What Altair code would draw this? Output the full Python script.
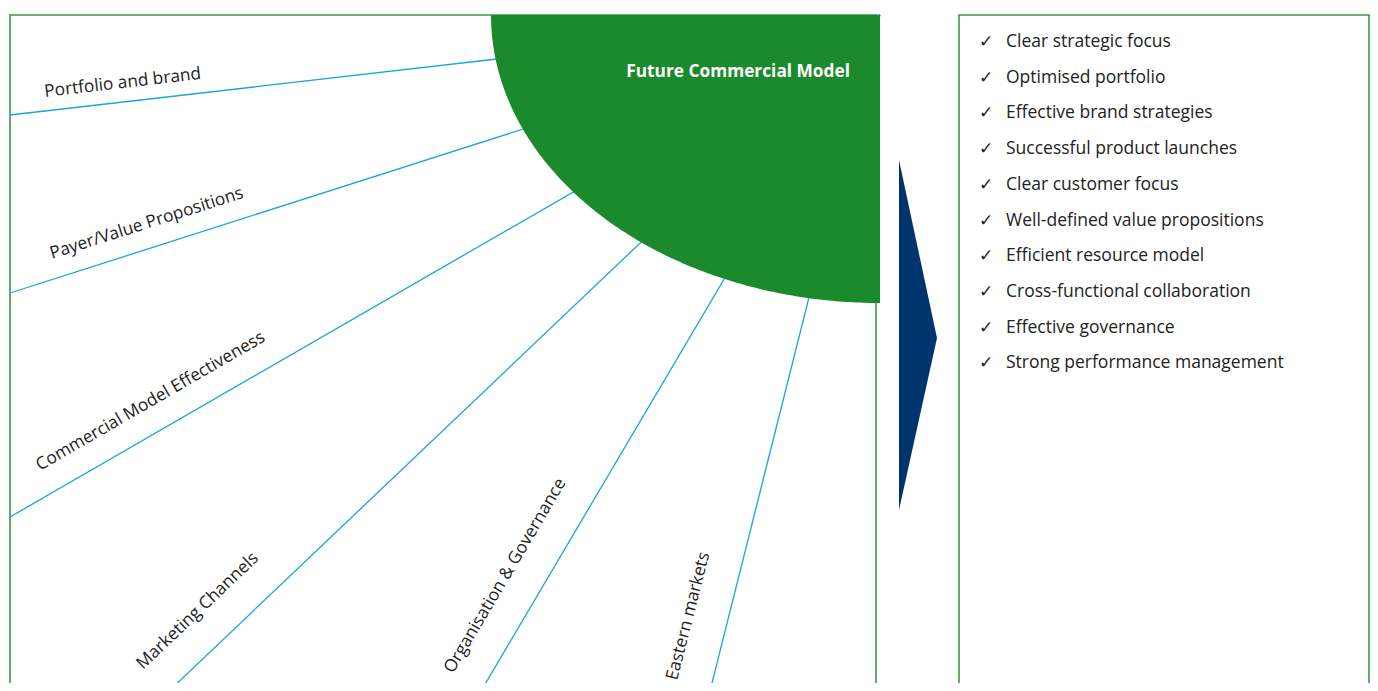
import altair as alt
import numpy as np
import pandas as pd

# ---- diagram content ----
segment_labels = ["Portfolio and brand", "Payer/Value Propositions",
                  "Commercial Model Effectiveness", "Marketing Channels",
                  "Organisation & Governance", "Eastern markets"]
label_x = [45, 52, 40, 143, 453, 677]
label_y = [97, 259, 471, 670, 674, 681]
label_angle = [353.4, 342.3, 330.0, 316.4, 300.6, 284.3]

# rays start at the centre of the green quadrant and run to the frame edge
ray_end_x = [10, 10, 10, 169, 481, 710]
ray_end_y = [115, 293, 517, 691, 691, 691]
centre_x, centre_y = 880, 15
radius_x, radius_y = 389, 288

hub_title = "Future Commercial Model"

benefits = ["Clear strategic focus", "Optimised portfolio", "Effective brand strategies",
            "Successful product launches", "Clear customer focus",
            "Well-defined value propositions", "Efficient resource model",
            "Cross-functional collaboration", "Effective governance",
            "Strong performance management"]
benefit_y = [47, 83, 118, 154, 190, 226, 261, 297, 333, 368]

# frames and arrow
box_x = [10, 959]
box_x2 = [876, 1369]
arrow_x = [899, 937]
arrow_top = [160, 338]
arrow_bottom = [510, 338]

GREEN = "#1b8a2c"
FRAME = "#3a9a44"
BLUE = "#1ba3e0"
NAVY = "#00346f"
TEXT = "#222222"
FONT = "Open Sans"

W, H = 1362, 675
xs = alt.Scale(domain=[8, 8 + W], nice=False, zero=False)
ys = alt.Scale(domain=[8, 8 + H], nice=False, zero=False, reverse=True)
X = lambda f: alt.X(f, type="quantitative", scale=xs, axis=None)
Y = lambda f: alt.Y(f, type="quantitative", scale=ys, axis=None)

boxes = pd.DataFrame({"x": box_x, "x2": box_x2, "y": [15, 15], "y2": [760, 760]})
box_layer = alt.Chart(boxes).mark_rect(fillOpacity=0, stroke=FRAME, strokeWidth=1.6, clip=True).encode(
    x=X("x"), x2="x2", y=Y("y"), y2="y2")

rays = pd.DataFrame({"x": [centre_x] * 6, "y": [centre_y] * 6, "x2": ray_end_x, "y2": ray_end_y})
ray_layer = alt.Chart(rays).mark_rule(color=BLUE, strokeWidth=1.3, clip=True).encode(
    x=X("x"), y=Y("y"), x2="x2", y2="y2")

# outline of the quarter-ellipse hub (geometry of the shape, sampled along its edge)
t = np.radians(np.arange(0, 90.25, 0.5))
hub_df = pd.DataFrame({
    "x": centre_x - radius_x * np.cos(t),
    "y": centre_y + radius_y * np.sin(t),
    "y2": np.full(len(t), float(centre_y)),
})
hub = alt.Chart(hub_df).mark_area(color=GREEN, clip=True).encode(
    x=X("x"), y=Y("y"), y2="y2")

hub_text = alt.Chart(pd.DataFrame({"x": [850], "y": [77], "t": [hub_title]})).mark_text(
    align="right", baseline="alphabetic", font=FONT, fontSize=17.3, fontWeight="bold", color="white"
).encode(x=X("x"), y=Y("y"), text="t:N")

arrow = pd.DataFrame({"x": arrow_x, "y": arrow_top, "y2": arrow_bottom})
arrow_layer = alt.Chart(arrow).mark_area(color=NAVY).encode(x=X("x"), y=Y("y"), y2="y2")

labels = pd.DataFrame({"x": label_x, "y": label_y, "a": label_angle, "t": segment_labels})
label_layer = alt.Chart(labels).mark_text(
    align="left", baseline="alphabetic", font=FONT, fontSize=17.3, color=TEXT
).encode(x=X("x"), y=Y("y"), angle=alt.Angle("a:Q", scale=None), text="t:N")

ben = pd.DataFrame({"y": benefit_y, "t": benefits, "c": ["✓"] * len(benefits)})
check_layer = alt.Chart(ben).mark_text(
    align="left", baseline="alphabetic", font="DejaVu Sans", fontSize=17, color=TEXT
).encode(x=alt.X(datum=979, type="quantitative", scale=xs, axis=None), y=Y("y"), text="c:N")
ben_layer = alt.Chart(ben).mark_text(
    align="left", baseline="alphabetic", font=FONT, fontSize=17.5, fontWeight=500, color=TEXT
).encode(x=alt.X(datum=1006, type="quantitative", scale=xs, axis=None), y=Y("y"), text="t:N")

chart = alt.layer(box_layer, ray_layer, hub, hub_text, arrow_layer, label_layer, check_layer, ben_layer).properties(
    width=W, height=H, padding=0, background="white", autosize=alt.AutoSizeParams(type="none")
).configure_view(stroke="transparent", strokeWidth=0)

chart.save("out.html", embed_options={"renderer": "svg", "actions": False})
